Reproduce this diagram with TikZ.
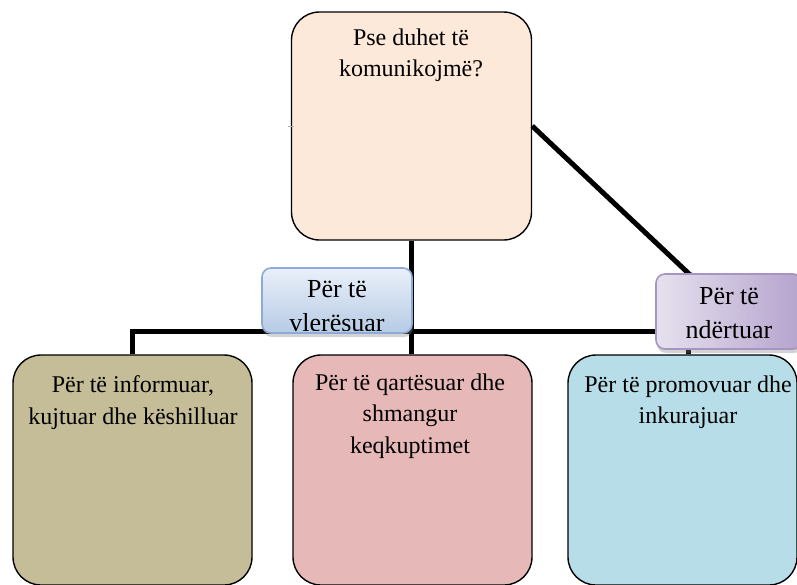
\documentclass[tikz,border=0pt]{standalone}
\usepackage{fontspec}
\setmainfont{Liberation Serif}
\usetikzlibrary{positioning,shadows}

\definecolor{peach}{HTML}{FDE9D9}
\definecolor{khaki}{HTML}{C4BD97}
\definecolor{rose}{HTML}{E6B9B8}
\definecolor{aqua}{HTML}{B7DEE8}
\definecolor{bluetop}{HTML}{EAF0F9}
\definecolor{bluebot}{HTML}{B6CBE5}
\definecolor{blueline}{HTML}{8EAADB}
\definecolor{lilacleft}{HTML}{E6E1EE}
\definecolor{lilacright}{HTML}{B5A3CD}
\definecolor{lilacline}{HTML}{A793C4}

\tikzset{
  bigbox/.style={draw=black, line width=1.4pt, rounded corners=28pt,
    minimum width=239pt, minimum height=230pt, inner sep=0pt},
  boxtext/.style={align=center, inner sep=0pt, anchor=north,
    font=\fontsize{24}{31.5}\selectfont},
  tagbox/.style={rounded corners=9pt, line width=1.6pt, inner sep=0pt,
    drop shadow={shadow xshift=1pt, shadow yshift=-4pt, opacity=.35}},
  tagtext/.style={align=center, inner sep=0pt, anchor=north,
    font=\fontsize{26}{33.5}\selectfont},
  link/.style={line width=5pt}
}

\begin{document}
\begin{tikzpicture}[x=1pt,y=-1pt]
  \useasboundingbox (0,0) rectangle (797,584);

  % Main boxes
  \node[bigbox, fill=peach, minimum width=240pt, minimum height=228pt] (why) at (411.5,126) {};
  \node[bigbox, fill=khaki] (inform) at (132.5,470) {};
  \node[bigbox, fill=rose] (clarify) at (412.5,470) {};
  \node[bigbox, fill=aqua, minimum width=229pt] (promote) at (682.5,470) {};

  % Tag boxes (placed first, drawn later over the lines)
  \path (337,300.5) coordinate (assessC) (729,311.5) coordinate (buildC);

  % small mark left of the top box
  \draw[gray!60, line width=0.6pt] ([xshift=-3pt]why.west) -- ++(6,0);

  % Connectors
  \coordinate (bus) at (0,331.5);
  \coordinate (drop) at ([xshift=5.5pt]promote.north);
  \draw[link] (why.south) -- (why.south |- clarify.north);
  \draw[link] (why.east) -- (buildC);
  \draw[link] (inform.north) -- (inform.north |- bus) -- (buildC |- bus);
  \draw[link] (drop) -- (drop |- buildC);

  % Tag boxes
  \node[tagbox, draw=blueline, top color=bluetop, bottom color=bluebot,
    minimum width=150pt, minimum height=65pt] (assess) at (assessC) {};
  \node[tagbox, draw=lilacline, left color=lilacleft, right color=lilacright,
    minimum width=146pt, minimum height=75pt] (build) at (buildC) {};

  % Texts
  \node[boxtext] (whyT) at (411,28.6) {Pse duhet të\\komunikojmë?};
  \node[boxtext] (informT) at (133,375.6) {Për të informuar,\\kujtuar dhe këshilluar};
  \node[boxtext] (clarifyT) at (410,373.6) {Për të qartësuar dhe\\shmangur\\keqkuptimet};
  \node[boxtext] (promoteT) at (688,375.6) {Për të promovuar dhe\\inkurajuar};
  \begin{scope}
    \clip (262,268) rectangle (412,330);
    \node[tagtext] (assessT) at (337,280.6) {Për të\\vlerësuar};
  \end{scope}
  \node[tagtext] (buildT) at (729,287.6) {Për të\\ndërtuar};
\end{tikzpicture}
\end{document}
